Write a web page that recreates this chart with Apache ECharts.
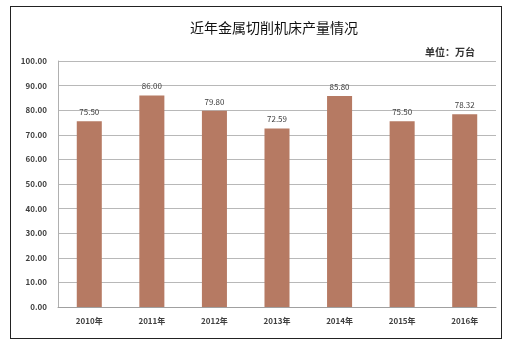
<!DOCTYPE html>
<html><head><meta charset="utf-8">
<script src="https://cdn.jsdelivr.net/npm/echarts@6/dist/echarts.min.js"></script>
<style>html,body{margin:0;padding:0;background:#fff}#c{width:506px;height:346px}
#box{position:absolute;left:10px;top:6px;width:492px;height:333px;border:1px solid #222;box-sizing:border-box;pointer-events:none}</style>
</head><body><div id="c"></div><div id="box"></div>
<script>
var categories = ['2010年','2011年','2012年','2013年','2014年','2015年','2016年'];
var values = [75.50, 86.00, 79.80, 72.59, 85.80, 75.50, 78.32];
var yTicks = [0, 10, 20, 30, 40, 50, 60, 70, 80, 90, 100];
var chart = echarts.init(document.getElementById('c'));
var font = '"Noto Sans CJK SC", "Liberation Sans", sans-serif';
chart.setOption({
  animation: false,
  title: [{text: '近年金属切削机床产量情况', left: 185, top: 16, textStyle: {fontSize: 14, fontWeight: 'normal', color: '#111', fontFamily: font}},
          {text: '单位：万台', left: 420, top: 42, textStyle: {fontSize: 10, fontWeight: 'bold', color: '#333', fontFamily: font}}],
  grid: {left: 58, right: 10, top: 61, bottom: 39},
  xAxis: {type: 'category', data: categories,
    axisLine: {show: true, lineStyle: {color: '#a0a0a0'}}, axisTick: {show: false},
    axisLabel: {fontSize: 8, fontWeight: 'bold', color: '#404040', fontFamily: font, margin: 10}},
  yAxis: {type: 'value', min: yTicks[0], max: yTicks[yTicks.length-1], interval: 10,
    axisLine: {show: true, lineStyle: {color: '#b0b0b0'}}, axisTick: {show: false},
    splitLine: {lineStyle: {color: '#b8b8b8'}},
    axisLabel: {fontSize: 8, fontWeight: 'bold', color: '#404040', fontFamily: font, margin: 11, formatter: function(v){return v.toFixed(2);}}},
  series: [{type: 'bar', data: values, barWidth: '40%', itemStyle: {color: '#b67a63'},
    label: {show: true, position: 'top', distance: 5, fontSize: 8, color: '#404040', fontFamily: font, formatter: function(p){return p.value.toFixed(2);}}}]
});
</script></body></html>
